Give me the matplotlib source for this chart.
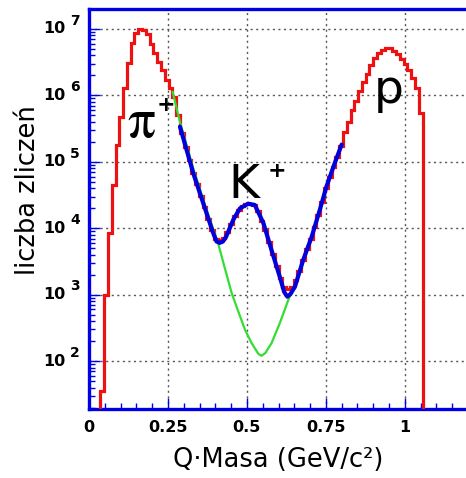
import matplotlib.pyplot as plt
import matplotlib.transforms as mtransforms
from matplotlib.ticker import LogLocator, MultipleLocator, NullFormatter, FixedFormatter, FixedLocator
import numpy as np

# histogram (counts per bin), bins 0.012 wide, first filled bin starts at 0.036
bin_width = 0.012
first_edge = 0.036
counts = [36, 1.0e3, 8.5e3, 4.5e4, 1.8e5, 4.8e5, 1.3e6, 3.1e6, 6.2e6, 8.7e6,
          1.0e7, 9.8e6, 8.5e6, 6.0e6, 4.4e6, 3.2e6, 2.4e6, 1.7e6, 1.3e6, 9.5e5,
          5.0e5, 2.7e5, 1.7e5, 1.07e5, 6.8e4, 4.6e4, 3.1e4, 2.1e4, 1.4e4, 9.3e3,
          6.9e3, 6.6e3, 7.1e3, 8.9e3, 1.17e4, 1.55e4, 1.9e4, 2.2e4, 2.35e4, 2.35e4,
          2.24e4, 1.8e4, 1.3e4, 9.5e3, 6.3e3, 4.1e3, 2.7e3, 1.8e3, 1.3e3, 1.2e3,
          1.3e3, 1.65e3, 2.3e3, 3.3e3, 4.8e3, 6.9e3, 1.05e4, 1.6e4, 2.5e4, 4.0e4,
          6.0e4, 8.5e4, 1.2e5, 1.75e5, 2.8e5, 4.0e5, 6.0e5, 8.3e5, 1.15e6, 1.6e6,
          2.1e6, 2.9e6, 3.6e6, 4.4e6, 4.9e6, 5.1e6, 5.1e6, 4.7e6, 4.2e6, 3.5e6,
          3.0e6, 2.4e6, 1.8e6, 1.3e6, 5.4e5]

# full fit (blue), log10 of counts
fit_x = [0.288, 0.309, 0.330, 0.351, 0.372, 0.393, 0.404, 0.414, 0.424, 0.434,
         0.457, 0.478, 0.504, 0.525, 0.552, 0.578, 0.604, 0.618, 0.628, 0.638,
         0.652, 0.678, 0.705, 0.731, 0.752, 0.778, 0.800]
fit_log = [5.53, 5.18, 4.83, 4.53, 4.23, 3.93, 3.80, 3.78, 3.80, 3.87,
           4.13, 4.30, 4.37, 4.35, 4.08, 3.67, 3.27, 3.04, 2.97, 3.01,
           3.12, 3.52, 3.87, 4.28, 4.63, 4.98, 5.26]

# background (green), log10 of counts
bkg_x = [0.265, 0.288, 0.330, 0.372, 0.409, 0.430, 0.452, 0.474, 0.494, 0.515,
         0.536, 0.546, 0.558, 0.578, 0.604, 0.631, 0.652, 0.678, 0.705, 0.731,
         0.752, 0.778, 0.800]
bkg_log = [6.05, 5.60, 4.90, 4.28, 3.77, 3.40, 3.02, 2.73, 2.47, 2.27,
           2.11, 2.08, 2.12, 2.27, 2.57, 2.92, 3.15, 3.52, 3.87, 4.28,
           4.63, 4.98, 5.26]

frame_blue = '#0000e6'
red = '#ee1111'
blue = '#0000dd'
green = '#33dd33'

fig = plt.figure(figsize=(4.66, 4.78), dpi=100)
ax = fig.add_axes([89 / 466, 1 - 409 / 478, 379 / 466, 400 / 478])

edges = first_edge + bin_width * np.arange(len(counts) + 1)
ax.stairs(counts, edges, baseline=1, color=red, lw=2.3, zorder=3)
ax.plot(bkg_x, 10 ** np.array(bkg_log), color=green, lw=1.6, zorder=4)
ax.plot(fit_x, 10 ** np.array(fit_log), color=blue, lw=3.0, zorder=5,
        solid_joinstyle='round', solid_capstyle='round')

ax.set_yscale('log')
ax.set_xlim(0, 1.2)
ax.set_ylim(19, 2.0e7)

# frame and ticks
for s in ax.spines.values():
    s.set_color(frame_blue)
    s.set_linewidth(2.4)
ax.xaxis.set_major_locator(FixedLocator([0, 0.25, 0.5, 0.75, 1.0]))
ax.xaxis.set_major_formatter(FixedFormatter(['0', '0.25', '0.5', '0.75', '1']))
ax.xaxis.set_minor_locator(MultipleLocator(0.05))
ax.yaxis.set_major_locator(LogLocator(base=10, numticks=12))
ax.yaxis.set_minor_locator(LogLocator(base=10, subs=np.arange(2, 10), numticks=12))
ax.yaxis.set_major_formatter(NullFormatter())
ax.yaxis.set_minor_formatter(NullFormatter())
ax.tick_params(which='both', direction='in', color=frame_blue, top=False, right=False, width=1)
ax.tick_params(which='major', length=8)
ax.tick_params(which='minor', length=4)
ax.tick_params(axis='x', pad=8, labelsize=11.5)
for lbl in ax.get_xticklabels():
    lbl.set_fontweight('bold')

ax.grid(which='major', color='#555555', linestyle=(0, (1.5, 2.5)), lw=1.0)
ax.set_axisbelow(True)

# y tick labels in the "10 ^k" style
trans = mtransforms.blended_transform_factory(ax.transAxes, ax.transData)
trans_up = mtransforms.offset_copy(trans, fig=fig, y=6, units='points')
for k in range(2, 8):
    ax.text(-0.063, 10 ** k, '10', transform=trans, ha='right', va='center',
            fontsize=11.5, fontweight='bold')
    ax.text(-0.050, 10 ** k, str(k), transform=trans_up, ha='left', va='center',
            fontsize=10, fontweight='bold')

# particle labels
ax.text(0.165, 10 ** 5.38, 'π', family='STIXGeneral', fontsize=40,
        ha='center', va='baseline')
ax.text(0.244, 10 ** 5.86, '+', fontsize=16, fontweight='bold', ha='center', va='center')
ax.text(0.44, 10 ** 4.457, 'K', fontsize=34, ha='left', va='baseline')
ax.text(0.595, 10 ** 4.86, '+', fontsize=16, fontweight='bold', ha='center', va='center')
ax.text(0.949, 10 ** 5.89, 'p', fontsize=34, ha='center', va='baseline')

fig.text(278 / 466, 1 - 460 / 478, 'Q·Masa (GeV/c²)', fontsize=18.5, ha='center', va='center')
fig.text(28 / 466, 1 - 190 / 478, 'liczba zliczeń', fontsize=18.5, rotation=90,
         ha='center', va='center')

fig.savefig('out.png', dpi=100)
